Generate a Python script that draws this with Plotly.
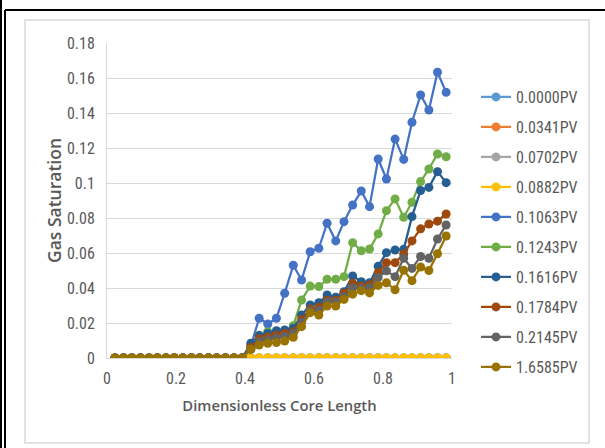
import plotly.graph_objects as go

# Dimensionless core length positions (40 sampling points)
x_pos = [0.023, 0.048, 0.072, 0.097, 0.122, 0.146, 0.171, 0.195, 0.220, 0.245,
         0.269, 0.294, 0.318, 0.343, 0.368, 0.392, 0.417, 0.441, 0.466, 0.491,
         0.515, 0.540, 0.564, 0.589, 0.614, 0.638, 0.663, 0.687, 0.712, 0.737,
         0.761, 0.786, 0.810, 0.835, 0.860, 0.884, 0.909, 0.933, 0.958, 0.983]

series_names = ["0.0000PV", "0.0341PV", "0.0702PV", "0.0882PV", "0.1063PV",
                "0.1243PV", "0.1616PV", "0.1784PV", "0.2145PV", "1.6585PV"]

colors = ["#5B9BD5", "#ED7D31", "#A5A5A5", "#FFC000", "#4472C4",
          "#70AD47", "#255E91", "#9E480E", "#636363", "#997300"]

zeros16 = [0, 0, 0, 0, 0, 0, 0, 0, 0, 0, 0, 0, 0, 0, 0, 0]

s_0000 = [0, 0, 0, 0, 0, 0, 0, 0, 0, 0, 0, 0, 0, 0, 0, 0, 0, 0, 0, 0,
          0, 0, 0, 0, 0, 0, 0, 0, 0, 0, 0, 0, 0, 0, 0, 0, 0, 0, 0, 0]
s_0341 = [0, 0, 0, 0, 0, 0, 0, 0, 0, 0, 0, 0, 0, 0, 0, 0, 0, 0, 0, 0,
          0, 0, 0, 0, 0, 0, 0, 0, 0, 0, 0, 0, 0, 0, 0, 0, 0, 0, 0, 0]
s_0702 = [0, 0, 0, 0, 0, 0, 0, 0, 0, 0, 0, 0, 0, 0, 0, 0, 0, 0, 0, 0,
          0, 0, 0, 0, 0, 0, 0, 0, 0, 0, 0, 0, 0, 0, 0, 0, 0, 0, 0, 0]
s_0882 = [0, 0, 0, 0, 0, 0, 0, 0, 0, 0, 0, 0, 0, 0, 0, 0, 0, 0, 0, 0,
          0, 0, 0, 0, 0, 0, 0, 0, 0, 0, 0, 0, 0, 0, 0, 0, 0, 0, 0, 0]
s_1063 = zeros16 + [0.0070, 0.0227, 0.0194, 0.0227, 0.0370, 0.0530, 0.0446, 0.0607,
                    0.0627, 0.0770, 0.0669, 0.0779, 0.0874, 0.0954, 0.0865, 0.1137,
                    0.1023, 0.1251, 0.1135, 0.1347, 0.1503, 0.1417, 0.1633, 0.1518]
s_1243 = zeros16 + [0.0070, 0.0130, 0.0150, 0.0145, 0.0156, 0.0185, 0.0331, 0.0411,
                    0.0408, 0.0450, 0.0450, 0.0465, 0.0659, 0.0613, 0.0623, 0.0709,
                    0.0842, 0.0909, 0.0804, 0.0890, 0.1008, 0.1080, 0.1166, 0.1150]
s_1616 = zeros16 + [0.0084, 0.0128, 0.0140, 0.0156, 0.0160, 0.0170, 0.0246, 0.0303,
                    0.0316, 0.0360, 0.0347, 0.0379, 0.0469, 0.0436, 0.0430, 0.0524,
                    0.0602, 0.0617, 0.0621, 0.0808, 0.0957, 0.0975, 0.1065, 0.1002]
s_1784 = zeros16 + [0.0060, 0.0110, 0.0120, 0.0130, 0.0140, 0.0150, 0.0220, 0.0280,
                    0.0290, 0.0330, 0.0330, 0.0370, 0.0427, 0.0411, 0.0417, 0.0488,
                    0.0545, 0.0545, 0.0594, 0.0669, 0.0738, 0.0766, 0.0782, 0.0823]
s_2145 = zeros16 + [0.0050, 0.0095, 0.0105, 0.0115, 0.0125, 0.0140, 0.0205, 0.0270,
                    0.0270, 0.0320, 0.0320, 0.0350, 0.0400, 0.0398, 0.0400, 0.0460,
                    0.0498, 0.0465, 0.0570, 0.0512, 0.0580, 0.0570, 0.0680, 0.0760]
s_16585 = zeros16 + [0.0050, 0.0074, 0.0084, 0.0088, 0.0097, 0.0118, 0.0179, 0.0259,
                     0.0246, 0.0297, 0.0297, 0.0335, 0.0365, 0.0385, 0.0372, 0.0415,
                     0.0430, 0.0390, 0.0501, 0.0442, 0.0520, 0.0500, 0.0596, 0.0697]

all_series = [s_0000, s_0341, s_0702, s_0882, s_1063,
              s_1243, s_1616, s_1784, s_2145, s_16585]

y_ticks = [0, 0.02, 0.04, 0.06, 0.08, 0.1, 0.12, 0.14, 0.16, 0.18]
x_ticks = [0, 0.2, 0.4, 0.6, 0.8, 1]
x_tick_text = ["0", "0.2", "0.4", "0.6", "0.8", "1"]

NARROW = "Liberation Sans Narrow, Arial Narrow, Roboto Condensed, Liberation Sans, sans-serif"
TITLE_FONT = "Open Sans, Liberation Sans, Arial, sans-serif"
GREY_TXT = "#595959"

fig = go.Figure()
for name, col, vals in zip(series_names, colors, all_series):
    fig.add_trace(go.Scatter(
        x=x_pos, y=vals, name=name, mode="lines+markers",
        line=dict(color=col, width=2.25),
        marker=dict(color=col, size=9),
        legendgroup=name,
    ))

# plot area in pixels: x 107..452, y 43..358
L, R, T, B = 107, 452, 43, 358
W, H = 605, 448

def px_x(p):
    return (p - L) / (R - L)

def px_y(p):
    return (B - p) / (B - T)

shapes = [
    dict(type="rect", xref="paper", yref="paper",
         x0=px_x(25), x1=px_x(589), y0=px_y(443), y1=px_y(20),
         line=dict(color="#D9D9D9", width=1.5), layer="below"),
    dict(type="line", xref="paper", yref="paper",
         x0=px_x(1), x1=px_x(1), y0=px_y(0), y1=px_y(448),
         line=dict(color="black", width=2)),
    dict(type="line", xref="paper", yref="paper",
         x0=px_x(5), x1=px_x(5), y0=px_y(10), y1=px_y(448),
         line=dict(color="black", width=2)),
    dict(type="line", xref="paper", yref="paper",
         x0=px_x(5), x1=px_x(605), y0=px_y(10), y1=px_y(10),
         line=dict(color="black", width=2)),
]

fig.update_layout(
    width=W, height=H,
    margin=dict(l=L, r=W - R, t=T, b=H - B, pad=0),
    paper_bgcolor="white", plot_bgcolor="white",
    shapes=shapes,
    showlegend=True,
    legend=dict(
        x=px_x(476), xanchor="left",
        y=px_y(80), yanchor="top",
        font=dict(family=NARROW, size=16, color=GREY_TXT),
        tracegroupgap=6.2, itemwidth=30,
        maxheight=440,
        bgcolor="rgba(0,0,0,0)", borderwidth=0,
    ),
    xaxis=dict(
        range=[0, 1], tickvals=x_ticks, ticktext=x_tick_text,
        showgrid=False, zeroline=False,
        showline=True, linecolor="#D9D9D9", linewidth=1,
        ticks="", ticklabelstandoff=6,
        tickfont=dict(family=NARROW, size=16, color=GREY_TXT),
        title=dict(text="Dimensionless Core Length",
                   font=dict(family=TITLE_FONT, size=14.8, color=GREY_TXT, weight=600),
                   standoff=13),
        automargin=False,
    ),
    yaxis=dict(
        range=[0, 0.18], tickvals=y_ticks,
        showgrid=True, gridcolor="#D9D9D9", gridwidth=1,
        zeroline=False,
        showline=True, linecolor="#D9D9D9", linewidth=1,
        ticks="", ticklabelstandoff=8,
        tickfont=dict(family=NARROW, size=16, color=GREY_TXT),
        title=dict(text="Gas Saturation",
                   font=dict(family=TITLE_FONT, size=17.5, color=GREY_TXT, weight=600),
                   standoff=0),
        automargin=False,
    ),
)

fig.write_html("out.html")
